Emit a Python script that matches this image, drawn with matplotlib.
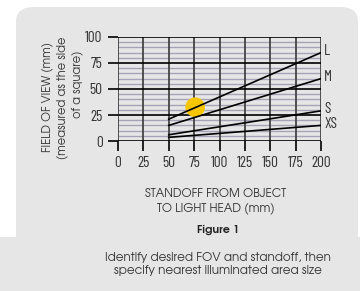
import matplotlib.pyplot as plt
from matplotlib.patches import FancyBboxPatch, Rectangle

# Data
standoff = [50, 200]
fov_L = [21, 85]
fov_M = [15, 60]
fov_S = [6, 29]
fov_XS = [3.5, 15]
series = [("L", fov_L), ("M", fov_M), ("S", fov_S), ("XS", fov_XS)]
marker_x = [76]
marker_y = [32.5]
x_ticks = [0, 25, 50, 75, 100, 125, 150, 175, 200]
y_ticks = [0, 25, 50, 75, 100]
y_minor = [v for v in range(5, 100, 5) if v % 25 != 0]

panel = "#e6e6e6"
text_col = "#333333"
narrow = ["Barlow Condensed", "Archivo Narrow", "DejaVu Sans"]
gothic = ["TeX Gyre Adventor", "URW Gothic", "Questrial", "DejaVu Sans"]

fig = plt.figure(figsize=(3.6, 2.91), dpi=100, facecolor="white")

# grey rounded panel + bottom strip
fig.patches.append(FancyBboxPatch((16 / 360, 0), 342 / 360, 1 - 7 / 291,
                                  boxstyle="round,pad=0,rounding_size=0.05",
                                  transform=fig.transFigure, facecolor=panel,
                                  edgecolor="none", zorder=-2))
fig.patches.append(Rectangle((0, 0), 1, 1 - 237 / 291, transform=fig.transFigure,
                             facecolor=panel, edgecolor="none", zorder=-2))

ax = fig.add_axes([118 / 360, 1 - 141 / 291, 203 / 360, 104 / 291])
ax.set_facecolor(panel)
for s in ax.spines.values():
    s.set_visible(False)

# grid
for v in y_minor:
    ax.axhline(v, color="#a4a4b6", lw=1.0, zorder=1)
for v in x_ticks:
    ax.axvline(v, color="#444444", lw=1.3, zorder=2)
for v in y_ticks:
    ax.axhline(v, color="black", lw=1.2, zorder=2)

ax.scatter(marker_x, marker_y, s=200, color="#f7c600", edgecolors="none", zorder=3)

for name, ys in series:
    ax.plot(standoff, ys, color="black", lw=1.2, zorder=4)
    ax.text(203, ys[1] + 1.5, name, fontsize=11, family=narrow, color=text_col,
            ha="left", va="center", clip_on=False)

ax.set_xlim(0, 200)
ax.set_ylim(0, 100)
ax.set_xticks(x_ticks)
ax.set_yticks(y_ticks)
ax.tick_params(length=7, width=1.2, color="black", direction="out", pad=4,
               labelsize=11, labelcolor=text_col)
for lab in ax.get_xticklabels() + ax.get_yticklabels():
    lab.set_family(narrow)

# axis titles
fig.text(47 / 360, 1 - 97 / 291, "FIELD OF VIEW (mm)", rotation=90, fontsize=8.2,
         family=gothic, color=text_col, ha="center", va="center")
fig.text(62 / 360, 1 - 98 / 291, "(measured as the side", rotation=90, fontsize=8.2,
         family=gothic, color=text_col, ha="center", va="center")
fig.text(77 / 360, 1 - 84 / 291, "of a square)", rotation=90, fontsize=8.2,
         family=gothic, color=text_col, ha="center", va="center")

fig.text(216 / 360, 1 - 201 / 291, "STANDOFF FROM OBJECT\nTO LIGHT HEAD (mm)",
         fontsize=8.4, family=gothic, color=text_col, ha="center", va="center",
         linespacing=1.3)
fig.text(218 / 360, 1 - 230 / 291, "Figure 1", fontsize=8, fontweight="bold",
         family=gothic, color="#222222", ha="center", va="center")
fig.text(218 / 360, 1 - 264 / 291,
         "Identify desired FOV and standoff, then\nspecify nearest illuminated area size",
         fontsize=8.6, family=gothic, color=text_col, ha="center", va="center",
         linespacing=1.2)

plt.savefig("out.png", dpi=100, facecolor="white")
plt.close()
